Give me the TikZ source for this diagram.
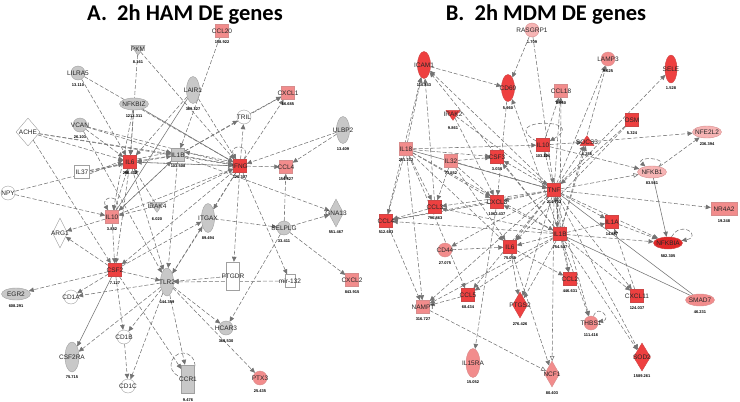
\documentclass[tikz,border=0pt]{standalone}
\usepackage{fontspec}
\setmainfont{Liberation Sans}
\newfontfamily\titlefont{Carlito}
\usetikzlibrary{shapes.geometric,arrows.meta,backgrounds}
\definecolor{gfill}{RGB}{200,200,200}
\definecolor{gdraw}{RGB}{160,160,160}
\definecolor{rfill}{RGB}{238,64,64}
\definecolor{rdraw}{RGB}{205,70,70}
\definecolor{drfill}{RGB}{225,40,40}
\definecolor{pfill}{RGB}{242,140,140}
\definecolor{lpfill}{RGB}{246,180,180}
\definecolor{pdraw}{RGB}{215,140,140}
\definecolor{edc}{RGB}{115,115,115}
\tikzset{
  nb/.style={inner sep=0pt, line width=0.4pt},
  sqr/.style={nb, rectangle, minimum size=13pt},
  circ/.style={nb, circle, minimum size=14pt},
  tell/.style={nb, ellipse, minimum width=13pt, minimum height=27pt},
  well/.style={nb, ellipse, minimum width=29pt, minimum height=12pt},
  dia/.style={nb, diamond, minimum width=15pt, minimum height=28pt},
  tdown/.style={nb, isosceles triangle, isosceles triangle apex angle=70, shape border rotate=270, minimum height=10pt, minimum width=14pt},
  tup/.style={nb, isosceles triangle, isosceles triangle apex angle=70, shape border rotate=90, minimum height=10pt, minimum width=14pt},
  G/.style={fill=gfill, draw=gdraw},
  W/.style={fill=white, draw=gdraw},
  R/.style={fill=rfill, draw=rdraw},
  DR/.style={fill=drfill, draw=rdraw},
  P/.style={fill=pfill, draw=pdraw},
  LP/.style={fill=lpfill, draw=pdraw},
  lab/.style={font=\fontsize{6.5}{7}\selectfont, text=black!85, inner sep=0pt},
  val/.style={font=\bfseries\fontsize{4}{4.5}\selectfont, text=black, inner sep=0pt},
  ed/.style={draw=edc, line width=0.55pt, dash pattern=on 4pt off 2pt, -{Triangle[length=5pt,width=4.5pt]}},
  edo/.style={draw=edc, line width=0.55pt, dash pattern=on 4pt off 2pt, -{Triangle[open,length=5pt,width=4.5pt,fill=white]}},
  es/.style={draw=edc, line width=0.55pt, -{Triangle[length=5pt,width=4.5pt]}},
  en/.style={draw=edc, line width=0.55pt, dash pattern=on 4pt off 2pt},
  esn/.style={draw=edc, line width=0.55pt},
}
\newcommand\nd[7]{\node[#1] (#2) at (#3,#4) {}; \node[lab] at (#2) {#5}; \node[val] at (#3,#4+#7) {#6};}
\begin{document}
\begin{tikzpicture}[x=1pt,y=-1pt]
\useasboundingbox (0,0) rectangle (740,402);
\node[font=\titlefont\bfseries\fontsize{22.5}{24}\selectfont, inner sep=0pt] (tA) at (185,15) {A.\ \ 2h HAM DE genes};
\node[font=\titlefont\bfseries\fontsize{22.5}{24}\selectfont, inner sep=0pt] (tB) at (546,15) {B.\ \ 2h MDM DE genes};
% ---------------- Panel A nodes
\nd{tdown,G}{aPKM}{138}{49}{PKM}{8.161}{13}
\nd{sqr,P}{aCCL20}{222}{31}{CCL20}{158.922}{11}
\nd{circ,G}{aLILRA5}{78}{73}{LILRA5}{13.110}{12}
\nd{well,G}{aNFKBIZ}{134}{104}{NFKBIZ}{1212.311}{12}
\nd{tell,G}{aLAIR1}{193}{90}{LAIR1}{369.327}{19}
\nd{sqr,P}{aCXCL1}{288}{93}{CXCL1}{56.685}{11}
\nd{circ,W}{aTRIL}{244}{117}{TRIL}{}{0}
\nd{tell,G}{aULBP2}{343}{130}{ULBP2}{13.409}{19}
\nd{dia,W,minimum width=24pt}{aACHE}{28}{132}{ACHE}{}{0}
\nd{circ,G}{aVCAN}{80}{125}{VCAN}{26.103}{12}
\nd{sqr,R}{aIL6}{130}{162}{IL6}{286.412}{11}
\nd{sqr,G}{aIL1B}{178}{155}{IL1B}{103.508}{11}
\nd{sqr,R}{aIFNG}{240}{166}{IFNG}{120.307}{11}
\nd{sqr,P}{aCCL4}{286}{167}{CCL4}{154.827}{12}
\nd{sqr,W,minimum width=15pt}{aIL37}{82}{172}{IL37}{}{0}
\nd{circ,W}{aNPY}{8}{193}{NPY}{}{0}
\nd{tdown,G}{aIRAK4}{157}{206}{IRAK4}{6.020}{13}
\nd{sqr,P}{aIL10}{112}{217}{IL10}{3.882}{12}
\nd{tell,G,minimum height=29pt}{aITGAX}{208}{218}{ITGAX}{89.494}{20}
\nd{circ,G}{aSELPLG}{284}{228}{SELPLG}{33.411}{13}
\nd{dia,G}{aGNA13}{336}{213}{GNA13}{551.467}{19}
\nd{dia,W,minimum height=30pt}{aARG1}{60}{233}{ARG1}{}{0}
\nd{sqr,R}{aCSF2}{115}{270}{CSF2}{7.127}{13}
\nd{tell,G,minimum height=28pt}{aTLR2}{167}{282}{TLR2}{144.359}{20}
\nd{rectangle,nb,W,minimum width=13pt,minimum height=28pt}{aPTGDR}{233}{276}{PTGDR}{}{0}
\nd{rectangle,nb,W,minimum width=10pt,minimum height=13pt}{amir}{290}{281}{mir-132}{}{0}
\nd{sqr,P}{aCXCL2}{352}{280}{CXCL2}{843.915}{12}
\nd{well,G}{aEGR2}{16}{294}{EGR2}{608.291}{12}
\nd{circ,W}{aCD1A}{71}{297}{CD1A}{}{0}
\nd{circ,W}{aCD1B}{124}{337}{CD1B}{}{0}
\nd{circ,G}{aHCAR3}{226}{328}{HCAR3}{368.530}{13}
\nd{tell,G,minimum width=14pt,minimum height=30pt}{aCSF2RA}{72}{357}{CSF2RA}{75.715}{20}
\nd{circ,W}{aCD1C}{128}{386}{CD1C}{}{0}
\nd{rectangle,nb,G,minimum width=13pt,minimum height=28pt}{aCCR1}{188}{379}{CCR1}{9.476}{21}
\nd{circ,P}{aPTX3}{260}{378}{PTX3}{25.435}{13}
% ---------------- Panel B nodes
\nd{circ,LP}{bRASGRP1}{532}{30}{RASGRP1}{1.709}{12}
\nd{tell,R}{bICAM1}{424}{65}{ICAM1}{110.843}{20}
\nd{tell,R}{bCD69}{508}{88}{CD69}{5.960}{20}
\nd{tdown,R}{bIRAK2}{453}{114}{IRAK2}{9.861}{14}
\nd{sqr,P}{bCCL18}{561}{91}{CCL18}{8.660}{12}
\nd{circ,P}{bLAMP3}{608}{59}{LAMP3}{9.625}{12}
\nd{tell,R,minimum width=12pt,minimum height=28pt}{bSELE}{671}{69}{SELE}{1.528}{19}
\nd{sqr,R}{bOSM}{632}{120}{OSM}{5.324}{13}
\nd{well,LP}{bNFE2L2}{707}{132}{NFE2L2}{236.394}{12}
\nd{sqr,P}{bIL18}{406}{149}{IL18}{281.212}{11}
\nd{sqr,P}{bIL32}{451}{161}{IL32}{73.552}{12}
\nd{sqr,R}{bCSF3}{497}{157}{CSF3}{3.034}{12}
\nd{sqr,R}{bIL10}{543}{145}{IL10}{103.126}{11}
\nd{tup,R}{bSOCS3}{587}{142}{SOCS3}{6.256}{12}
\nd{well,LP}{bNFKB1}{652}{172}{NFKB1}{83.561}{11}
\nd{sqr,R}{bTNF}{554}{190}{TNF}{214.702}{12}
\nd{sqr,R}{bCXCL8}{497}{202}{CXCL8}{1062.437}{12}
\nd{sqr,R}{bCCL3}{435}{207}{CCL3}{796.863}{11}
\nd{sqr,R}{bCCL4}{386}{221}{CCL4}{512.683}{11}
\nd{circ,P}{bCD44}{445}{250}{CD44}{27.075}{13}
\nd{sqr,R}{bIL6}{510}{247}{IL6}{75.055}{11}
\nd{sqr,R}{bIL1B}{560}{234}{IL1B}{754.507}{13}
\nd{sqr,R}{bIL1A}{612}{222}{IL1A}{14.887}{12}
\nd{rectangle,nb,P,minimum width=26pt,minimum height=13pt}{bNR4A2}{724}{209}{NR4A2}{19.248}{12}
\nd{well,DR}{bNFKBIA}{668}{243}{NFKBIA}{582.305}{13}
\nd{sqr,R}{bCCL2}{570}{279}{CCL2}{446.631}{12}
\nd{sqr,R}{bCCL5}{468}{295}{CCL5}{68.434}{12}
\nd{sqr,P}{bNAMPT}{423}{307}{NAMPT}{316.727}{12}
\nd{dia,R,minimum height=26pt}{bPTGS2}{520}{305}{PTGS2}{276.426}{19}
\nd{sqr,R}{bCXCL11}{637}{296}{CXCL11}{124.037}{12}
\nd{well,P}{bSMAD7}{700}{300}{SMAD7}{46.231}{12}
\nd{circ,P}{bTHBS1}{591}{323}{THBS1}{111.416}{12}
\nd{tell,P,minimum width=14pt,minimum height=29pt}{bIL15RA}{473}{363}{IL15RA}{15.052}{19}
\nd{dia,P,minimum height=26pt}{bNCF1}{552}{374}{NCF1}{80.403}{19}
\nd{dia,R,minimum width=17pt,minimum height=28pt}{bSOD2}{642}{357}{SOD2}{1589.261}{19}
% ---------------- edges
\begin{scope}[on background layer]
% Panel A
\draw[ed] (aPKM) -- (aIL6);
\draw[ed] (aPKM) -- (aIFNG);
\draw[ed] (aCCL20) -- (aIL1B);
\draw[ed] (aLILRA5) -- (aIL6);
\draw[ed] (aLILRA5) -- (aIFNG);
\draw[ed] (aNFKBIZ) -- (aIL6);
\draw[es] (aNFKBIZ) -- (aIFNG);
\draw[ed] (aNFKBIZ) -- (aIL10);
\draw[ed] (aLAIR1) -- (aIL6);
\draw[esn] (aLAIR1) -- (aIL10);
\draw[ed] (aLAIR1) -- (aIFNG);
\draw[ed] (aTRIL) -- (aCXCL1);
\draw[ed] (aIL1B) -- (aCXCL1);
\draw[ed] (aIFNG) -- (aTRIL);
\draw[ed] (aIL1B) -- (aTRIL);
\draw[ed] (aULBP2) -- (aIFNG);
\draw[ed] (aACHE) -- (aIL6);
\draw[ed] (aACHE) -- (aIL1B);
\draw[ed] (aACHE) -- (aCSF2);
\draw[ed] (aVCAN) -- (aIL6);
\draw[ed] (aVCAN) -- (aIL1B);
\draw[ed] (aVCAN) -- (aTLR2);
\draw[ed] (aIL37) -- (aIL6);
\draw[ed] ([yshift=-2pt]aIL37.east) -- ([yshift=2pt]aIL6.west);
\draw[ed] (aIL37) -- (aIL1B);
\draw[ed] (aNPY) -- (aIL6);
\draw[ed] (aNPY) -- (aIL10);
\draw[ed] (aIL1B) -- (aIL6);
\draw[ed] ([yshift=3pt]aIL6.east) -- ([yshift=3pt]aIL1B.west);
\draw[ed] (aIL1B) -- (aIFNG);
\draw[ed] ([yshift=4pt]aIFNG.west) -- ([yshift=3pt]aIL1B.east);
\draw[ed] (aIFNG) -- (aIL6);
\draw[ed] (aIFNG) -- (aCCL4);
\draw[ed] (aIFNG) -- (aCXCL1);
\draw[ed] (aSELPLG) -- (aCCL4);
\draw[ed] (aSELPLG) -- (aGNA13);
\draw[ed] (aSELPLG) -- (aCXCL2);
\draw[ed] (aIL1B) -- (aGNA13);
\draw[ed] (aULBP2) -- (aCCL4);
\draw[ed] (aITGAX) -- (aSELPLG);
\draw[ed] (aTLR2) -- (aITGAX);
\draw[ed] (aIL10) -- (aIL6);
\draw[ed] (aIL10) -- (aARG1);
\draw[ed] (aIL10) -- (aIFNG);
\draw[ed] (aIL10) -- (aIL1B);
\draw[ed] (aIL10) -- (aCSF2);
\draw[ed] (aIRAK4) -- (aIL10);
\draw[ed] (aIRAK4) -- (aIL6);
\draw[ed] (aIRAK4) -- (aIFNG);
\draw[ed] (aIL6) -- (aCSF2);
\draw[ed] (aIL1B) -- (aIL10);
\draw[ed] (aCSF2) -- (aCD1A);
\draw[ed] (aCSF2) -- (aCD1B);
\draw[es] (aCSF2) -- (aCSF2RA);
\draw[ed] (aCSF2) -- (aTLR2);
\draw[ed] (aCSF2) -- (aARG1);
\draw[ed] (aCSF2) -- (aEGR2);
\draw[ed] (aCSF2) -- (aITGAX);
\draw[ed] (aCSF2) -- (aCCR1);
\draw[ed] (aIFNG) -- (aCSF2);
\draw[ed] (aTLR2) -- (aCD1A);
\draw[ed] (aTLR2) -- (aCD1B);
\draw[ed] (aTLR2) -- (aCSF2RA);
\draw[ed] (aTLR2) -- (aCCR1);
\draw[ed] (aTLR2) -- (aHCAR3);
\draw[ed] (aTLR2) -- (aPTX3);
\draw[ed] (aTLR2) -- (aCD1C);
\draw[ed] (aPTGDR) -- (aTLR2);
\draw[ed] (amir) -- (aTLR2);
\draw[ed] (aCD1B) -- (aCD1C);
\draw[ed] (aSELPLG) -- (aHCAR3);
\draw[ed] (aIFNG) -- (amir);
\draw[ed] (aIFNG) -- (aPTGDR);
\draw[ed] (aIL1B) -- (aTLR2);
\draw[ed] (aIFNG) -- (aTLR2);
\draw[ed] (aIFNG) -- (aITGAX);
\draw[ed] (aIL6) -- (aTLR2);
\draw[ed] (aIL6) -- (aIFNG);
\draw[ed] (aVCAN) -- (aIFNG);
\draw[ed] (aACHE) -- (aIFNG);
\draw[ed] (aIFNG) edge[ed, out=60, in=120, looseness=6] (aIFNG);
\draw[ed] (aIL10) edge[ed, out=60, in=120, looseness=6] (aIL10);
\draw[en] (183,365) circle (12);
% Panel B
\draw[ed] (bRASGRP1) -- (bCD69);
\draw[ed] (bRASGRP1) -- (bTNF);
\draw[ed] (bICAM1) -- (bCD69);
\draw[ed] (bTNF) -- (bICAM1);
\draw[ed] (bIL1B) -- (bICAM1);
\draw[ed] (bIL18) -- (bICAM1);
\draw[ed] (bCCL4) -- (bICAM1);
\draw[ed] (bCCL3) -- (bICAM1);
\draw[ed] (bIL1B) -- (bCD69);
\draw[ed] (bCD69) -- (bCXCL8);
\draw[ed] (bIRAK2) -- (bTNF);
\draw[ed] (bIRAK2) -- (bCXCL8);
\draw[ed] (bTNF) -- (bCCL18);
\draw[ed] (bIL1B) -- (bCCL18);
\draw[ed] (bTNF) -- (bLAMP3);
\draw[ed] (bIL1B) -- (bLAMP3);
\draw[ed] (bTNF) -- (bSELE);
\draw[ed] (bOSM) -- (bTNF);
\draw[ed] (bOSM) -- (bIL6);
\draw[ed] (bNFKB1) -- (bNFE2L2);
\draw[ed] (bSOCS3) -- (bNFE2L2);
\draw[edo] (bTNF) -- (bNFKB1);
\draw[ed] (bIL10) -- (bNFKB1);
\draw[es] (bNFKB1) -- (bNFKBIA);
\draw[ed] (bNFKB1) edge[ed, out=40, in=140, looseness=3] (bNFKB1);
\draw[ed] (bNFKBIA) edge[ed, out=60, in=10, looseness=5] (bNFKBIA);
\draw[ed] (bTNF) -- (bNR4A2);
\draw[ed] (bIL1A) -- (bNFKBIA);
\draw[ed] (bIL1B) -- (bNFKBIA);
\draw[ed] (bTNF) -- (bNFKBIA);
\draw[esn] (bTNF) -- (bSMAD7);
\draw[esn] (bIL1B) -- (bSMAD7);
\draw[ed] (bTNF) -- (bIL1A);
\draw[ed] (bIL1B) -- (bIL1A);
\draw[ed] (bTNF) -- (bCXCL11);
\draw[ed] (bTNF) -- (bSOD2);
\draw[ed] (bTNF) -- (bTHBS1);
\draw[ed] (bTNF) -- (bCCL2);
\draw[ed] (bIL1B) -- (bCCL2);
\draw[ed] (bIL6) -- (bCCL2);
\draw[ed] (bIL1B) -- (bTHBS1);
\draw[edo] (bTNF) -- (bNCF1);
\draw[edo] (bNAMPT) -- (bNCF1);
\draw[ed] (bCXCL8) -- (bIL15RA);
\draw[ed] (bTNF) -- (bPTGS2);
\draw[ed] (bIL1B) -- (bPTGS2);
\draw[ed] (bIL6) -- (bPTGS2);
\draw[ed] (bTNF) -- (bCCL5);
\draw[ed] (bIL1B) -- (bCCL5);
\draw[ed] (bIL18) -- (bCCL5);
\draw[ed] (bCCL5) -- (bNAMPT);
\draw[ed] (bIL1B) -- (bNAMPT);
\draw[ed] (bTNF) -- (bNAMPT);
\draw[ed] (bIL18) -- (bCCL4);
\draw[ed] (bCCL3) -- (bCCL4);
\draw[ed] (bCXCL8) -- (bCCL4);
\draw[ed] (bTNF) -- (bCCL4);
\draw[ed] (bIL1B) -- (bCCL4);
\draw[ed] (bCD44) -- (bIL6);
\draw[ed] (bTNF) -- (bCD44);
\draw[ed] (bIL32) -- (bCCL3);
\draw[ed] (bIL18) -- (bCCL3);
\draw[ed] (bTNF) -- (bCCL3);
\draw[ed] (bIL1B) -- (bCCL3);
\draw[ed] (bIL32) -- (bCXCL8);
\draw[ed] (bIL18) -- (bCXCL8);
\draw[ed] (bTNF) -- (bCXCL8);
\draw[ed] (bIL1B) -- (bCXCL8);
\draw[ed] (bIL18) -- (bCSF3);
\draw[ed] (bIL32) -- (bCSF3);
\draw[ed] (bTNF) -- (bCSF3);
\draw[ed] (bIL1B) -- (bCSF3);
\draw[ed] (bIL18) -- (bIL10);
\draw[ed] (bTNF) -- (bIL10);
\draw[ed] (bIL10) -- (bCCL18);
\draw[ed] (bTNF) -- (bIL6);
\draw[ed] (bIL1B) -- (bIL6);
\draw[ed] (bIL32) -- (bIL6);
\draw[ed] (bIL18) -- (bIL6);
\draw[ed] (bIL1B) -- (bTNF);
\draw[ed] ([xshift=3pt]bTNF.south) -- ([xshift=-3pt]bIL1B.north);
\draw[ed] (bIL32) -- (bTNF);
\draw[es] (bIL18) -- (bTNF);
\draw[ed] (bIL18) -- (bIL1B);
\draw[ed] (bTNF) -- (bSOCS3);
\draw[ed] (bIL10) -- (bSOCS3);
\draw[ed] (bIL1B) -- (bSOCS3);
\draw[ed] (bIL10) edge[ed, out=150, in=30, looseness=9] (bIL10);
\draw[ed] (bTHBS1) edge[ed, out=70, in=10, looseness=5] (bTHBS1);
\draw[ed] (bIL1B) -- (bSOD2);
\draw[ed] (bIL1B) -- (bCXCL11);
\draw[ed] (bCXCL11) -- (bIL1A);
\draw[ed] (bIL6) -- (bNCF1);
\draw[ed] (bCCL4) -- (bNAMPT);
\draw[ed] (bIL18) -- (bNAMPT);
\end{scope}
\end{tikzpicture}
\end{document}
